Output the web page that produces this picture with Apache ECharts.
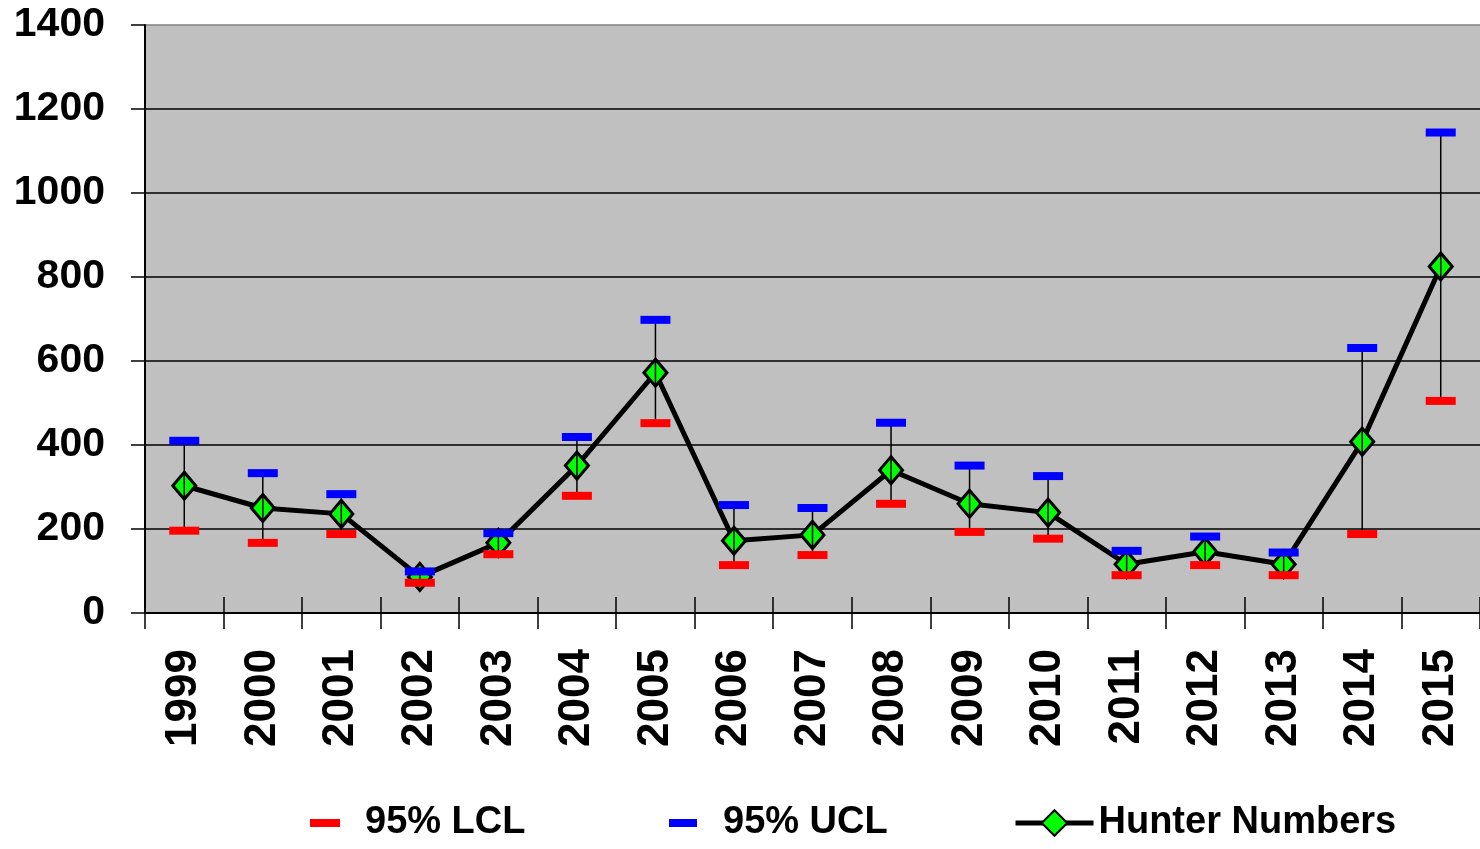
<!DOCTYPE html>
<html>
<head>
<meta charset="utf-8">
<title>Hunter Numbers</title>
<script src="https://cdn.jsdelivr.net/npm/echarts@6/dist/echarts.min.js"></script>
<style>
  html, body { margin: 0; padding: 0; background: #fff; }
  #chart { width: 1480px; height: 849px; }
</style>
</head>
<body>
<div id="chart"></div>
<script>
// values
const years = ['1999', '2000', '2001', '2002', '2003', '2004', '2005', '2006', '2007',
  '2008', '2009', '2010', '2011', '2012', '2013', '2014', '2015']
const hunterNumbers = [303, 250, 236, 86, 167, 351, 572, 172, 186, 340, 260, 239, 116, 146, 116, 408, 825]
const ucl = [410, 333, 283, 99, 190, 419, 698, 257, 250, 453, 351, 326, 148, 182, 144, 631, 1144]
const lcl = [196, 167, 188, 72, 140, 279, 452, 114, 138, 260, 193, 177, 90, 114, 90, 188, 505]
const yTicks = [0, 200, 400, 600, 800, 1000, 1200, 1400]

const chart = echarts.init(document.getElementById('chart'))

const legendFont = {
  fontFamily: 'Liberation Sans, sans-serif',
  fontWeight: 'bold',
  fontSize: 38,
  color: '#000',
  lineHeight: 46
}

const option = {
  animation: false,
  grid: {
    left: 145,
    right: -1,
    top: 25,
    bottom: 236,
    show: true,
    backgroundColor: '#c0c0c0',
    borderWidth: 0
  },
  legend: [
    {
      data: ['95% LCL'],
      left: 305,
      top: 795,
      itemWidth: 30,
      itemHeight: 8,
      textStyle: Object.assign({ padding: [0, 0, 0, 20] }, legendFont)
    },
    {
      data: ['95% UCL'],
      left: 664,
      top: 795,
      itemWidth: 28,
      itemHeight: 8,
      textStyle: Object.assign({ padding: [0, 0, 0, 21] }, legendFont)
    },
    {
      data: ['Hunter Numbers'],
      left: 1008,
      top: 795,
      itemWidth: 78,
      itemHeight: 32,
      lineStyle: { width: 5, color: '#000' },
      textStyle: Object.assign({ padding: [0, 0, 0, 0] }, legendFont)
    }
  ],
  xAxis: [
    {
      type: 'category',
      data: years,
      boundaryGap: true,
      axisLine: { lineStyle: { color: '#000', width: 2 } },
      axisTick: { show: true, length: 16, lineStyle: { color: '#000', width: 1.5 } },
      axisLabel: {
        rotate: 90,
        margin: 36,
        fontFamily: 'Liberation Sans',
        fontWeight: 'bold',
        fontSize: 44,
        color: '#000'
      },
      splitLine: { show: false }
    },
    {
      // inner half of the crossing ticks
      type: 'category',
      data: years,
      position: 'bottom',
      boundaryGap: true,
      axisLine: { show: false },
      axisTick: { show: true, inside: true, length: 16, lineStyle: { color: '#000', width: 1.5 } },
      axisLabel: { show: false },
      splitLine: { show: false }
    }
  ],
  yAxis: {
    type: 'value',
    min: yTicks[0],
    max: yTicks[yTicks.length - 1],
    interval: 200,
    axisLine: { show: true, lineStyle: { color: '#000', width: 2 } },
    axisTick: { show: true, length: 14, lineStyle: { color: '#000', width: 1.5 } },
    axisLabel: {
      margin: 40,
      fontFamily: 'Liberation Sans',
      fontWeight: 'bold',
      fontSize: 41,
      color: '#000',
      formatter: function (v) { return String(v) }
    },
    splitLine: {
      show: true,
      lineStyle: {
        color: ['#000', '#000', '#000', '#000', '#000', '#000', '#000', '#808080'],
        width: 1.5
      }
    }
  },
  series: [
    {
      name: 'Hunter Numbers',
      type: 'line',
      data: hunterNumbers,
      z: 3,
      symbol: 'diamond',
      symbolSize: [23, 27],
      lineStyle: { color: '#000', width: 5 },
      itemStyle: { color: '#00ff00', borderColor: '#000', borderWidth: 3 }
    },
    {
      name: 'errorbars',
      type: 'custom',
      z: 4,
      data: years.map((y, i) => [i, lcl[i], ucl[i]]),
      encode: { x: 0, y: [1, 2] },
      renderItem: function (params, api) {
        const lo = api.coord([api.value(0), api.value(1)])
        const hi = api.coord([api.value(0), api.value(2)])
        return {
          type: 'line',
          shape: { x1: lo[0], y1: lo[1], x2: hi[0], y2: hi[1] },
          style: { stroke: '#000', lineWidth: 1.5 }
        }
      }
    },
    {
      name: '95% LCL',
      type: 'scatter',
      data: lcl,
      z: 5,
      symbol: 'rect',
      symbolSize: [30, 8],
      itemStyle: { color: '#ff0000', opacity: 1 }
    },
    {
      name: '95% UCL',
      type: 'scatter',
      data: ucl,
      z: 5,
      symbol: 'rect',
      symbolSize: [30, 8],
      itemStyle: { color: '#0000ff', opacity: 1 }
    }
  ]
}

chart.setOption(option)
</script>
</body>
</html>
